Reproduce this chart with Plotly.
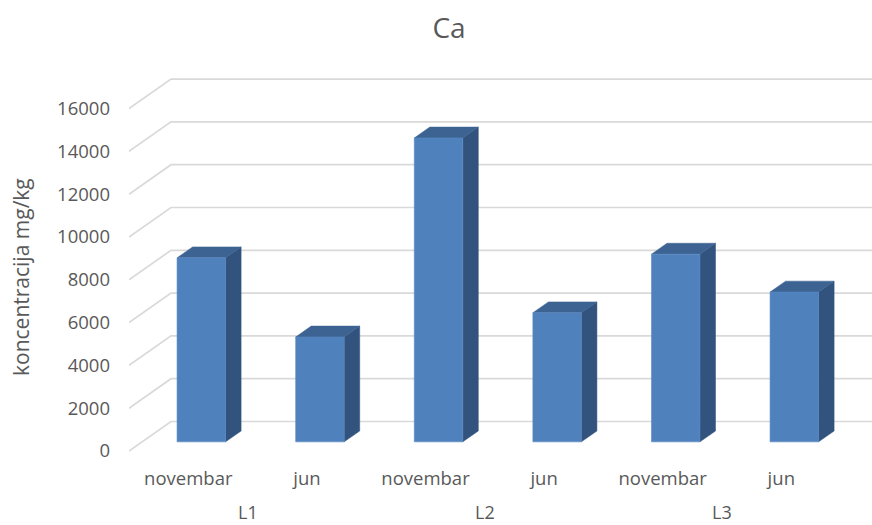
import plotly.graph_objects as go

# ---- data ----
locations = ["L1", "L2", "L3"]
months = ["novembar", "jun", "novembar", "jun", "novembar", "jun"]
values = [8600, 4900, 14200, 6030, 8770, 7000]
y_ticks = [0, 2000, 4000, 6000, 8000, 10000, 12000, 14000, 16000]

# ---- geometry (pixel layout of the pseudo-3D view) ----
W, H = 872, 525
L, R, T, B = 129, 872, 60, 462
PX_PER_CAT = 118.6
PX_PER_UNIT = 42.8 / 2000.0
Y0_PX = 451
xmin = -0.5
xmax = xmin + (R - L) / PX_PER_CAT
ymin = -(B - Y0_PX) / PX_PER_UNIT
ymax = ymin + (B - T) / PX_PER_UNIT

DX = 42 / PX_PER_CAT          # wall depth in category units
DY = 29.5 / PX_PER_UNIT       # wall depth in value units
F0, F1 = 0.31, 0.68           # bar depth range (fraction of wall depth)
HW = 24.25 / PX_PER_CAT       # half bar width

FRONT = "#4f81bd"
SIDE = "#31537d"
TOP = "#3c6392"
GRID = "#d9d9d9"
TXT = "#595959"
FONT = "Open Sans"
TICK_SIZE = 18.5

fig = go.Figure()

# gridlines on back wall + diagonals on side wall
gx, gy = [], []
for v in y_ticks:
    gx += [xmin, xmin + DX, xmax + DX + 1, None]
    gy += [v, v + DY, v + DY, None]
fig.add_trace(go.Scatter(x=gx, y=gy, mode="lines",
                         line=dict(color=GRID, width=1.7),
                         hoverinfo="skip", showlegend=False))

# bars
for i, v in enumerate(values):
    x0 = i - HW + F0 * DX
    x1 = i + HW + F0 * DX
    x2 = i + HW + F1 * DX
    x3 = i - HW + F1 * DX
    b0 = F0 * DY
    b1 = F1 * DY
    # side face
    fig.add_trace(go.Scatter(
        x=[x1, x2, x2, x1, x1], y=[b0, b1, v + b1, v + b0, b0],
        mode="lines", fill="toself", fillcolor=SIDE,
        line=dict(color=SIDE, width=0.5), hoverinfo="skip", showlegend=False))
    # top face
    fig.add_trace(go.Scatter(
        x=[x0, x1, x2, x3, x0], y=[v + b0, v + b0, v + b1, v + b1, v + b0],
        mode="lines", fill="toself", fillcolor=TOP,
        line=dict(color=TOP, width=0.5), hoverinfo="skip", showlegend=False))
    # front face
    fig.add_trace(go.Scatter(
        x=[x0, x1, x1, x0, x0], y=[b0, b0, v + b0, v + b0, b0],
        mode="lines", fill="toself", fillcolor=FRONT,
        line=dict(color="#5b8ac4", width=0.6), hoverinfo="skip", showlegend=False))

annotations = []
for k, loc in enumerate(locations):
    annotations.append(dict(
        text=loc, x=2 * k + 0.5, xref="x", y=(B - 525) / (B - T), yref="paper",
        showarrow=False, xanchor="center", yanchor="bottom", borderpad=0,
        font=dict(family=FONT, size=18, color=TXT)))
annotations.append(dict(
    text="koncentracija mg/kg", textangle=-90,
    x=(21 - L) / (R - L), xref="paper", y=(B - 277) / (B - T), yref="paper",
    showarrow=False, xanchor="center", yanchor="middle",
    font=dict(family=FONT, size=21, color=TXT)))

fig.update_layout(
    width=W, height=H,
    margin=dict(l=L, r=W - R, t=T, b=H - B),
    paper_bgcolor="white", plot_bgcolor="white",
    title=dict(text="Ca", x=449 / W, xref="container", xanchor="center",
               y=1 - 28 / H, yref="container", yanchor="middle",
               font=dict(family=FONT, size=28, color=TXT)),
    xaxis=dict(range=[xmin, xmax], tickvals=list(range(len(months))),
               ticktext=months, showgrid=False, zeroline=False, showline=False,
               ticks="", ticklabelstandoff=3,
               tickfont=dict(family=FONT, size=TICK_SIZE, color=TXT), fixedrange=True),
    yaxis=dict(range=[ymin, ymax], tickvals=y_ticks,
               ticktext=[str(v) for v in y_ticks],
               showgrid=False, zeroline=False, showline=False,
               ticks="", ticklabelstandoff=18,
               tickfont=dict(family=FONT, size=TICK_SIZE, color=TXT), fixedrange=True),
    annotations=annotations,
    showlegend=False,
)

fig.write_html("out.html")
